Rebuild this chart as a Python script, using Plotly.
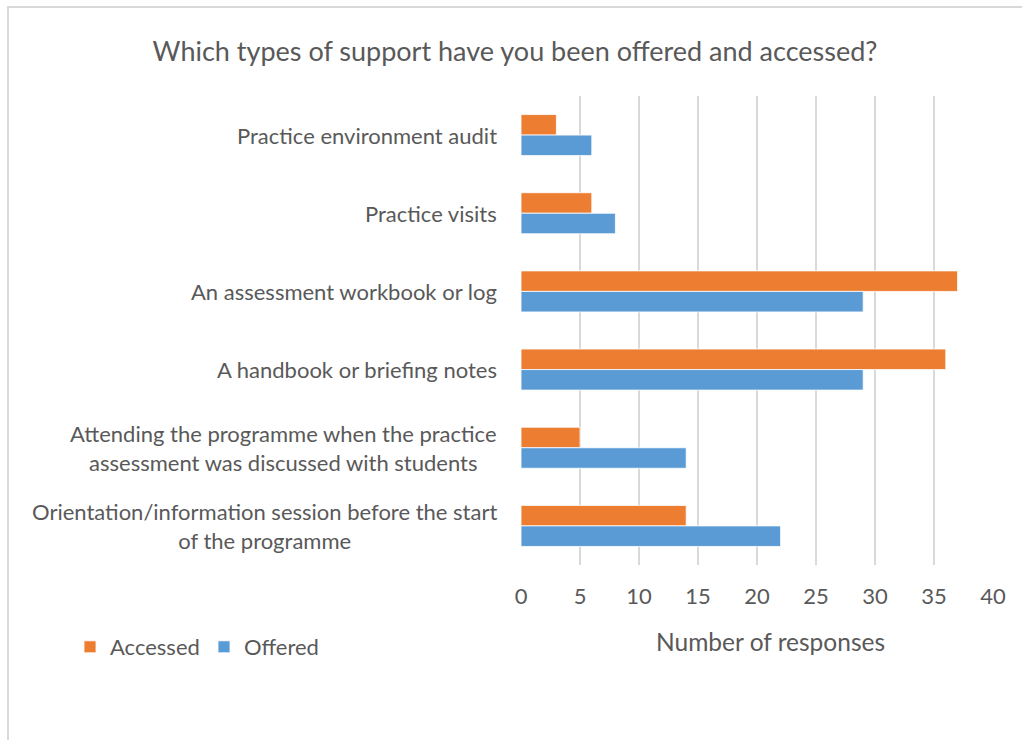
import plotly.graph_objects as go

categories = [
    "Practice environment audit",
    "Practice visits",
    "An assessment workbook or log",
    "A handbook or briefing notes",
    "Attending the programme when the practice<br>assessment was discussed with students",
    "Orientation/information session before the start<br>of the programme",
]
accessed = [3, 6, 37, 36, 5, 14]
offered = [6, 8, 29, 29, 14, 22]
x_ticks = [0, 5, 10, 15, 20, 25, 30, 35, 40]

TEXT = "#595959"
FONT = "Lato, 'Open Sans', sans-serif"
W, H = 1022, 740
L, R, T, B = 521, 29, 96, 175
pw, ph = W - L - R, H - T - B

fig = go.Figure()
fig.add_trace(go.Bar(y=categories, x=accessed, name="Accessed", orientation="h",
                     marker=dict(color="#ED7D31", line=dict(color="white", width=0.8))))
fig.add_trace(go.Bar(y=categories, x=offered, name="Offered", orientation="h",
                     marker=dict(color="#5B9BD5", line=dict(color="white", width=0.8))))

# category labels: right-aligned block, lines centred within it
annotations = []
for c in categories:
    annotations.append(dict(x=0, y=c, xref="paper", yref="y", text=c, showarrow=False,
                            xanchor="right", yanchor="middle", align="center", xshift=-22,
                            font=dict(family=FONT, size=22, color=TEXT)))
# x-axis title, positioned in paper space from pixel coordinates
annotations.append(dict(x=(770 - L) / pw, y=(H - B - 641) / ph, xref="paper", yref="paper",
                        text="Number of responses", showarrow=False,
                        xanchor="center", yanchor="middle",
                        font=dict(family=FONT, size=24.5, color=TEXT)))

fig.update_layout(
    width=W, height=H,
    margin=dict(l=L, r=R, t=T, b=B),
    paper_bgcolor="white", plot_bgcolor="white",
    barmode="group", bargap=0.475, bargroupgap=0,
    title=dict(text="Which types of support have you been offered and accessed?",
               x=515 / W, xanchor="center", y=1 - 52 / H, yanchor="middle",
               xref="container", yref="container",
               font=dict(family=FONT, size=27, color=TEXT)),
    xaxis=dict(range=[0, 40], tickvals=x_ticks, showgrid=True, gridcolor="#D9D9D9",
               gridwidth=1.5, zeroline=False, showline=False, ticks="",
               ticklabelstandoff=16,
               tickfont=dict(family=FONT, size=22, color=TEXT), fixedrange=True),
    yaxis=dict(autorange="reversed", showticklabels=False, showgrid=False,
               zeroline=False, showline=False, ticks=""),
    legend=dict(orientation="h", xref="container", yref="container",
                x=70 / W, y=1 - 647 / H, xanchor="left", yanchor="middle",
                font=dict(family=FONT, size=22, color=TEXT), traceorder="normal",
                itemwidth=30, entrywidth=89, bgcolor="rgba(0,0,0,0)"),
    annotations=annotations,
    shapes=[dict(type="rect", xref="paper", yref="paper",
                 x0=(8 - L) / pw, x1=(1040 - L) / pw,
                 y0=(H - B - 760) / ph, y1=(H - B - 7) / ph,
                 line=dict(color="#D9D9D9", width=2), fillcolor="rgba(0,0,0,0)",
                 layer="below")],
    showlegend=True,
)

fig.write_html("out.html")
